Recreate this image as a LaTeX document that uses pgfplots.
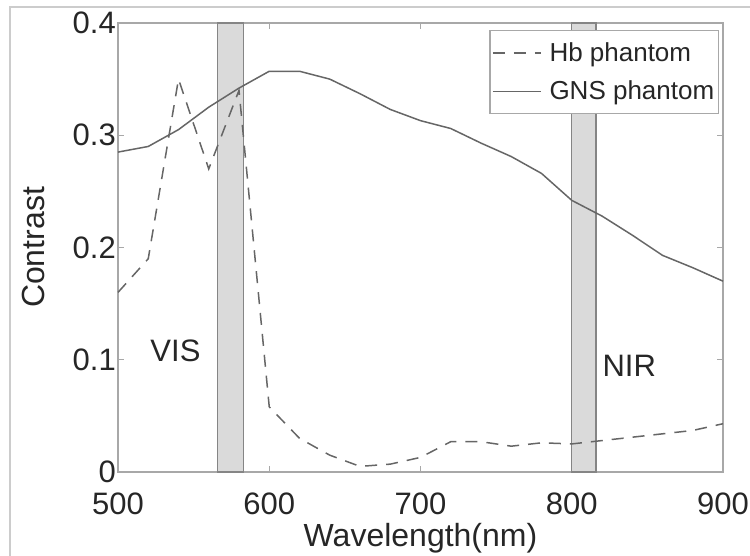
\documentclass[border=0pt]{standalone}
\usepackage{fontspec}
\setmainfont{Liberation Sans}
\usepackage{pgfplots}
\pgfplotsset{compat=1.18}
\definecolor{bandfill}{HTML}{DADADA}
\definecolor{linec}{HTML}{666666}
\definecolor{axc}{HTML}{A8A8A8}
\definecolor{txt}{HTML}{262626}
\pgfplotstableread{
x y
500 0.160
520 0.190
540 0.350
560 0.270
580 0.340
600 0.058
620 0.030
640 0.015
660 0.005
680 0.007
700 0.013
720 0.027
740 0.027
760 0.023
780 0.026
800 0.025
820 0.028
840 0.031
860 0.034
880 0.037
900 0.043
}\hbdata
\pgfplotstableread{
x y
500 0.285
520 0.290
540 0.305
560 0.325
580 0.342
600 0.357
620 0.357
640 0.350
660 0.337
680 0.323
700 0.313
720 0.306
740 0.293
760 0.281
780 0.266
800 0.242
820 0.228
840 0.211
860 0.193
880 0.182
900 0.170
}\gnsdata
\begin{document}
\begin{tikzpicture}[x=1pt,y=1pt]
\useasboundingbox (-118,-84) rectangle (632,472);
\draw[gray!40, line width=1.5pt] (-108,-200) -- (-108,465) -- (800,465);
\begin{axis}[
  at={(0,0)}, anchor=south west,
  scale only axis, width=605pt, height=449pt,
  xmin=500, xmax=900, ymin=0, ymax=0.4,
  xtick={500,600,700,800,900},
  ytick={0,0.1,0.2,0.3,0.4},
  yticklabels={0,0.1,0.2,0.3,0.4},
  xticklabels={500,600,700,800,900},
  tick align=inside,
  major tick length=6pt,
  tick style={axc, line width=1.2pt},
  axis line style={axc, line width=2pt},
  ticklabel style={font=\fontsize{31}{31}\selectfont, text=txt},
  /pgf/number format/assume math mode=true,
  xticklabel style={yshift=-17pt},
  yticklabel style={xshift=0pt, yshift=0pt, inner sep=2pt},
  xlabel={Wavelength(nm)},
  ylabel={Contrast},
  label style={font=\fontsize{32}{32}\selectfont, text=txt},
  xlabel style={at={(axis description cs:0.5,-0.165)}, anchor=base},
  ylabel style={at={(axis description cs:-0.1207,0.5)}, anchor=base, rotate=0},
  legend style={at={(rel axis cs:0.9934,0.9844)}, anchor=north east,
    draw=axc, line width=1.5pt, fill=white,
    font=\fontsize{26}{26}\selectfont, text=txt,
    inner xsep=2pt, inner ysep=10pt, row sep=14pt, column sep=6pt},
  legend cell align=left,
  legend image code/.code={\draw[#1] plot coordinates {(0pt,0pt) (24pt,0pt) (48pt,0pt)};},
  clip=false,
]
\addplot[forget plot, fill=bandfill, draw=linec!80, line width=1.2pt] coordinates {(566,0) (566,0.4) (583,0.4) (583,0) } -- cycle;
\addplot[forget plot, fill=bandfill, draw=linec!80, line width=1.2pt] coordinates {(800,0) (800,0.4) (816,0.4) (816,0) } -- cycle;
\addplot[linec, line width=1.5pt, dash pattern=on 12pt off 9pt] table[x=x,y=y] {\hbdata};
\addlegendentry{Hb phantom}
\addplot[linec, line width=1.5pt] table[x=x,y=y] {\gnsdata};
\addlegendentry{GNS phantom}
\node[font=\fontsize{31}{31}\selectfont, text=txt] at (axis cs:538,0.108) {VIS};
\node[font=\fontsize{31}{31}\selectfont, text=txt] at (axis cs:838,0.095) {NIR};
\end{axis}
\end{tikzpicture}
\end{document}
